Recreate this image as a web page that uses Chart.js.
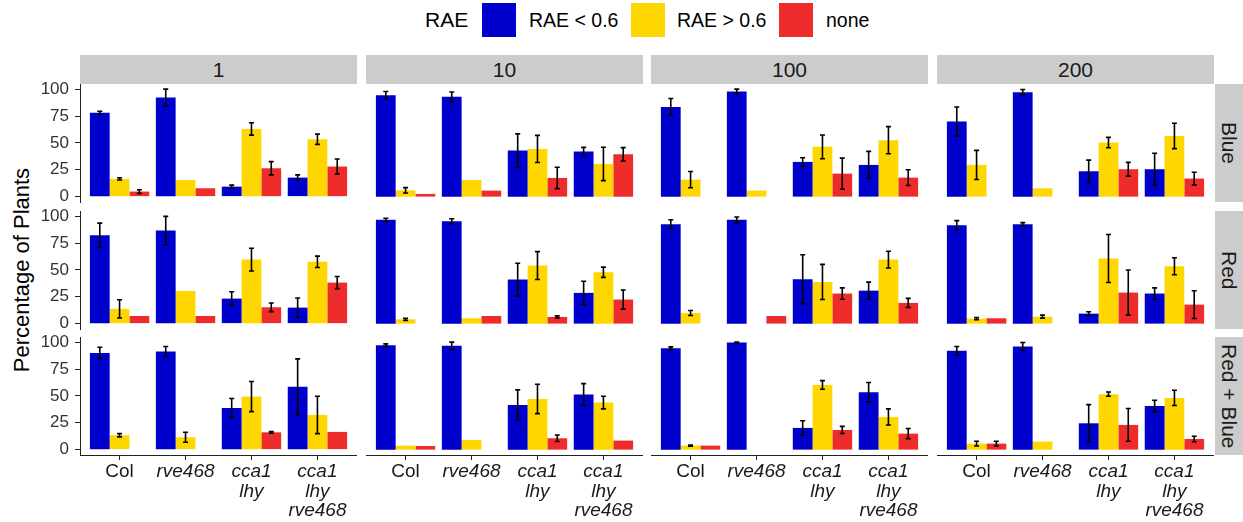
<!DOCTYPE html>
<html>
<head>
<meta charset="utf-8">
<script src="https://cdn.jsdelivr.net/npm/chart.js@4.4.1/dist/chart.umd.min.js"></script>
<style>
  body { margin: 0; background: #fff; font-family: "Liberation Sans", Arial, sans-serif; }
  #wrap { position: relative; width: 1243px; height: 522px; overflow: hidden; }
  canvas { position: absolute; }
  .strip { position: absolute; background: #cccccc; color: #1a1a1a; font-size: 21px;
           display: flex; align-items: center; justify-content: center; }
  .strip.side { writing-mode: vertical-rl; }
  .lg { position: absolute; color: #000; white-space: nowrap; }
  .key { position: absolute; width: 34px; height: 34px; }
  #ytitle { position: absolute; left: 22px; top: 270px; transform: translate(-50%, -50%) rotate(-90deg);
            font-size: 22px; color: #000; white-space: nowrap; }
</style>
</head>
<body>
<div id="wrap">
  <div class="lg" style="left:425px;top:8px;font-size:21px;">RAE</div>
  <div class="key" style="left:482px;top:3px;background:#0000cd;"></div>
  <div class="lg" style="left:529px;top:9px;font-size:19.5px;">RAE &lt; 0.6</div>
  <div class="key" style="left:631px;top:3px;background:#ffd700;"></div>
  <div class="lg" style="left:677px;top:9px;font-size:19.5px;">RAE &gt; 0.6</div>
  <div class="key" style="left:779px;top:3px;background:#ee2c2c;"></div>
  <div class="lg" style="left:826px;top:9px;font-size:19.5px;">none</div>
  <div id="ytitle">Percentage of Plants</div>
</div>
<script>
// facets
const intensities = ['1', '10', '100', '200'];
const lights = ['Blue', 'Red', 'Red + Blue'];
const genotypes = ['Col', 'rve468', 'cca1 lhy', 'cca1 lhy rve468'];
const seriesNames = ['RAE < 0.6', 'RAE > 0.6', 'none'];
const seriesColors = ['#0000cd', '#ffd700', '#ee2c2c'];
const yTicks = [0, 25, 50, 75, 100];

// one row per intensity (1, 10, 100, 200), one value per genotype
const lowBlue     = [[78, 92.2, 9.3, 17.7], [94.4, 92.9, 42.9, 41.9], [83.5, 97.8, 32.3, 29.5], [69.9, 97.2, 23.6, 25.5]];
const lowBlueErr  = [[1.4, 7.8, 1.4, 2.5], [3.4, 4.5, 15.5, 3.9], [7.8, 2.2, 3.9, 12.6], [13.5, 2.5, 10.4, 14.8]];
const highBlue    = [[16.5, 15.5, 63, 53.4], [5.9, 15.5, 44.4, 30.4], [15.8, 5.6, 46.3, 52.5], [29.5, 7.8, 50.3, 56.5]];
const highBlueErr = [[1, null, 5.8, 4.8], [2.5, null, 12.6, 15.5], [7.6, null, 11, 12.6], [13.5, null, 4.8, 11.8]];
const noneBlue    = [[4.7, 7.8, 26.4, 28], [2.5, 5.6, 17.4, 39.4], [null, null, 21.4, 17.7], [null, null, 25.5, 16.8]];
const noneBlueErr = [[1.7, null, 6.2, 7], [null, null, 10, 6.2], [null, null, 14.4, 7.3], [null, null, 6.4, 5.9]];

const lowRed     = [[82.3, 86.6, 23.3, 14.9], [96.6, 95.3, 41, 28.6], [92.5, 96.6, 41.3, 30.7], [91.6, 92.5, 9.3, 28]];
const lowRedErr  = [[11.2, 13.2, 6.4, 9], [1.5, 2.3, 15.2, 10.9], [4.2, 2.6, 22.8, 7.9], [4.2, 1.5, 1.7, 5.3]];
const highRed    = [[13.7, 30.4, 59.6, 57.5], [4, 5, 54, 47.8], [9.9, null, 38.8, 59.6], [4.7, 6.5, 60.6, 53.4]];
const highRedErr = [[8.5, null, 10.6, 5.3], [1, null, 13, 4.8], [2.3, null, 16.3, 7.8], [1, 1.4, 22.4, 7.9]];
const noneRed    = [[7.1, 7.1, 15.2, 38.2], [null, 7.1, 6.2, 22.4], [null, 7.1, 28, 19.3], [5, null, 28.9, 17.7]];
const noneRedErr = [[null, null, 4, 5.6], [null, null, 1, 8.9], [null, null, 5.3, 4.2], [null, null, 21, 12.9]];

const lowRB     = [[90, 91.3, 38.8, 58.4], [97.2, 96.6, 41.6, 51.2], [94.4, 99.7, 20.2, 53.4], [91.9, 96, 24.5, 40.7]];
const lowRBErr  = [[5.3, 4.7, 8.8, 26], [1.2, 3.4, 14, 10.2], [1.2, 0.3, 6.7, 9], [4, 3.7, 17.4, 5.3]];
const highRB    = [[13.4, 11.5, 49.4, 32.3], [3.7, 9, 47.2, 43.8], [3.7, null, 60.2, 30.4], [5.6, 7.5, 51.6, 48.1]];
const highRBErr = [[1.5, 4.7, 14, 17.4], [null, null, 13.7, 5.9], [0.5, null, 4, 7.5], [2.2, null, 2, 7.1]];
const noneRB    = [[null, null, 16.1, 16.5], [3.4, null, 10.6, 8.4], [3.7, null, 18.3, 14.9], [5.6, null, 23, 9.9]];
const noneRBErr = [[null, null, 0.8, null], [null, null, 3, null], [null, null, 3.3, 4.7], [2.2, null, 15.2, 2.6]];

const values = [[lowBlue, highBlue, noneBlue], [lowRed, highRed, noneRed], [lowRB, highRB, noneRB]];
const errors = [[lowBlueErr, highBlueErr, noneBlueErr], [lowRedErr, highRedErr, noneRedErr], [lowRBErr, highRBErr, noneRBErr]];

// panel geometry
const panelLeft = [80, 366, 651, 937];
const panelTop = [84, 211, 337];
const panelW = 277, panelH = 118;
const yAxisW = 80, xAxisH = 67, pad = 6;
const font = '"Liberation Sans", Arial, sans-serif';

const wrap = document.getElementById('wrap');

// error bars drawn on top of the bars
const errorBars = {
    id: 'errorBars',
    afterDatasetsDraw(chart) {
        const ctx = chart.ctx;
        const yScale = chart.scales.y;
        ctx.save();
        ctx.strokeStyle = '#000';
        ctx.lineWidth = 1.6;
        chart.data.datasets.forEach((ds, i) => {
            chart.getDatasetMeta(i).data.forEach((bar, j) => {
                const v = ds.data[j].y, e = ds.errors[j];
                if (v == null || e == null) return;
                const top = yScale.getPixelForValue(v + e);
                const bot = yScale.getPixelForValue(v - e);
                ctx.beginPath();
                ctx.moveTo(bar.x, top); ctx.lineTo(bar.x, bot);
                ctx.moveTo(bar.x - 2.5, top); ctx.lineTo(bar.x + 2.5, top);
                ctx.moveTo(bar.x - 2.5, bot); ctx.lineTo(bar.x + 2.5, bot);
                ctx.stroke();
            });
        });
        ctx.restore();
    }
};

function addStrip(text, left, top, w, h, side) {
    const d = document.createElement('div');
    d.className = 'strip' + (side ? ' side' : '');
    d.style.left = left + 'px'; d.style.top = top + 'px';
    d.style.width = w + 'px'; d.style.height = h + 'px';
    d.textContent = text;
    wrap.appendChild(d);
}

intensities.forEach((lab, c) => addStrip(lab, panelLeft[c], 55, panelW, 29, false));
lights.forEach((lab, r) => addStrip(lab, 1215, panelTop[r], 28, panelH, true));

// no extra room for the first / last tick labels: keep every panel the same size
function noLabelPadding(scale) {
    scale.paddingTop = 0; scale.paddingBottom = 0;
    scale.paddingLeft = 0; scale.paddingRight = 0;
}

lights.forEach((light, r) => {
    intensities.forEach((inten, c) => {
        const showY = c === 0;
        const showX = r === lights.length - 1;
        const canvas = document.createElement('canvas');
        const left = panelLeft[c] - (showY ? yAxisW : 0);
        const top = panelTop[r] - pad;
        const w = panelW + (showY ? yAxisW : 0);
        const h = panelH + pad + (showX ? xAxisH : pad);
        canvas.width = w; canvas.height = h;
        canvas.style.left = left + 'px'; canvas.style.top = top + 'px';
        wrap.appendChild(canvas);

        const datasets = seriesNames.map((name, s) => ({
            label: name,
            data: genotypes.map((g, i) => ({ x: i, y: values[r][s][c][i] })),
            errors: errors[r][s][c],
            backgroundColor: seriesColors[s],
            borderWidth: 0,
            categoryPercentage: 0.9,
            barPercentage: 1.0
        }));

        new Chart(canvas, {
            type: 'bar',
            data: { datasets: datasets },
            plugins: [errorBars],
            options: {
                responsive: false,
                animation: false,
                devicePixelRatio: 1,
                layout: { padding: { top: pad, bottom: showX ? 0 : pad, left: 0, right: 0 } },
                plugins: { legend: { display: false }, tooltip: { enabled: false } },
                scales: {
                    x: {
                        type: 'linear',
                        display: showX,
                        min: -0.6,
                        max: 3.6,
                        offset: false,
                        afterBuildTicks: scale => { scale.ticks = genotypes.map((g, i) => ({ value: i })); },
                        afterFit: scale => { if (showX) scale.height = xAxisH; noLabelPadding(scale); },
                        border: { display: true, color: '#222', width: 1 },
                        grid: { offset: false, drawOnChartArea: false, drawTicks: true, tickLength: 5, color: '#222' },
                        ticks: {
                            autoSkip: false,
                            maxRotation: 0,
                            padding: 2,
                            color: '#1a1a1a',
                            callback: v => genotypes[v].split(' '),
                            font: ctx => ({ family: font, size: 19, lineHeight: 1.03,
                                            style: ctx.index === 0 ? 'normal' : 'italic' })
                        }
                    },
                    y: {
                        display: showY,
                        min: -5,
                        max: 104.8,
                        afterBuildTicks: scale => { scale.ticks = yTicks.map(v => ({ value: v })); },
                        afterFit: scale => { if (showY) scale.width = yAxisW; noLabelPadding(scale); },
                        border: { display: true, color: '#222', width: 1 },
                        grid: { drawOnChartArea: false, drawTicks: true, tickLength: 5, color: '#222' },
                        ticks: { padding: 6, color: '#333', font: { family: font, size: 17 } }
                    }
                }
            }
        });
    });
});
</script>
</body>
</html>
